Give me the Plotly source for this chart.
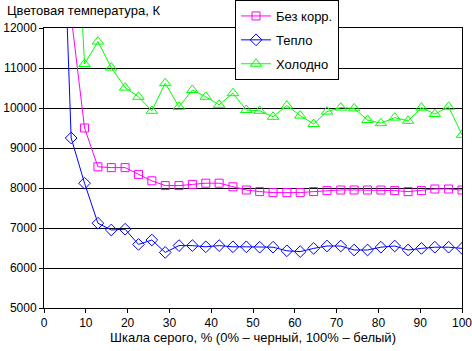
import plotly.graph_objects as go

# gray scale levels, %
gray = [0, 3.2, 6.5, 9.7, 12.9, 16.1, 19.4, 22.6, 25.8, 29.0, 32.3, 35.5, 38.7, 41.9,
        45.2, 48.4, 51.6, 54.8, 58.1, 61.3, 64.5, 67.7, 71.0, 74.2, 77.4, 80.6, 83.9,
        87.1, 90.3, 93.5, 96.8, 100]

bez_korr = [None, None, 12300, 9500, 8530, 8510, 8510, 8340, 8180, 8060, 8060, 8090,
            8120, 8120, 8030, 7950, 7910, 7885, 7885, 7885, 7910, 7935, 7950, 7950,
            7950, 7950, 7935, 7910, 7935, 7975, 7975, 7950]

teplo = [None, 19000, 9250, 8120, 7120, 6950, 6970, 6590, 6700, 6390, 6560, 6560,
         6530, 6560, 6530, 6530, 6520, 6520, 6430, 6410, 6490, 6550, 6550, 6450,
         6450, 6520, 6550, 6450, 6490, 6520, 6520, 6490]

holodno = [None, None, 17500, 11100, 11660, 11010, 10510, 10280, 9930, 10620, 10030,
           10450, 10280, 10080, 10370, 9950, 9930, 9780, 10060, 9810, 9600, 9910,
           10010, 9990, 9700, 9620, 9760, 9680, 10010, 9850, 10030, 9330]

x_ticks = [0, 10, 20, 30, 40, 50, 60, 70, 80, 90, 100]
y_ticks = [5000, 6000, 7000, 8000, 9000, 10000, 11000, 12000]

fig = go.Figure()
series = [
    ("Без корр.", bez_korr, "#FF00FF", "square-open", 8),
    ("Тепло", teplo, "#0000FF", "diamond-open", 9),
    ("Холодно", holodno, "#00FF00", "triangle-up-open", 10),
]
for i, (name, vals, col, sym, sz) in enumerate(series):
    fig.add_trace(go.Scatter(
        x=gray, y=vals, name=name, mode="lines+markers",
        line=dict(color=col, width=1),
        marker=dict(symbol=sym, size=sz, color=col, line=dict(color=col, width=1)),
        legendgroup=f"g{i}", connectgaps=False,
    ))

font = dict(family="Liberation Sans, Arial, sans-serif", size=12, color="black")
fig.update_layout(
    width=472, height=351,
    margin=dict(l=44, r=10, t=28, b=43, autoexpand=False),
    paper_bgcolor="white", plot_bgcolor="white",
    font=font,
    showlegend=True,
    legend=dict(
        x=0.457, y=1.1, xanchor="left", yanchor="top",
        bgcolor="white", bordercolor="black", borderwidth=1,
        font=dict(family="Liberation Sans, Arial, sans-serif", size=13, color="black"),
        tracegroupgap=4, itemwidth=30,
    ),
    xaxis=dict(
        range=[0, 100], tickvals=x_ticks, ticktext=[str(v) for v in x_ticks],
        ticklabeloverflow="allow",
        showgrid=False, zeroline=False,
        showline=True, linecolor="black", linewidth=1, mirror=True,
        ticks="outside", ticklen=4, tickcolor="black",
        title=dict(text="Шкала серого, % (0% – черный, 100% – белый)",
                   font=dict(size=13), standoff=2),
    ),
    yaxis=dict(
        range=[5000, 12000], tickvals=y_ticks, ticktext=[str(v) for v in y_ticks],
        ticklabeloverflow="allow",
        showgrid=True, gridcolor="black", gridwidth=1, zeroline=False,
        showline=True, linecolor="black", linewidth=1, mirror=True,
        ticks="outside", ticklen=4, tickcolor="black",
    ),
    annotations=[dict(
        text="Цветовая температура, К", xref="paper", yref="paper",
        x=-39 / 418, y=1 + 18 / 280, xanchor="left", yanchor="middle",
        showarrow=False, font=dict(size=13),
    )],
)

fig.write_html("out.html")
